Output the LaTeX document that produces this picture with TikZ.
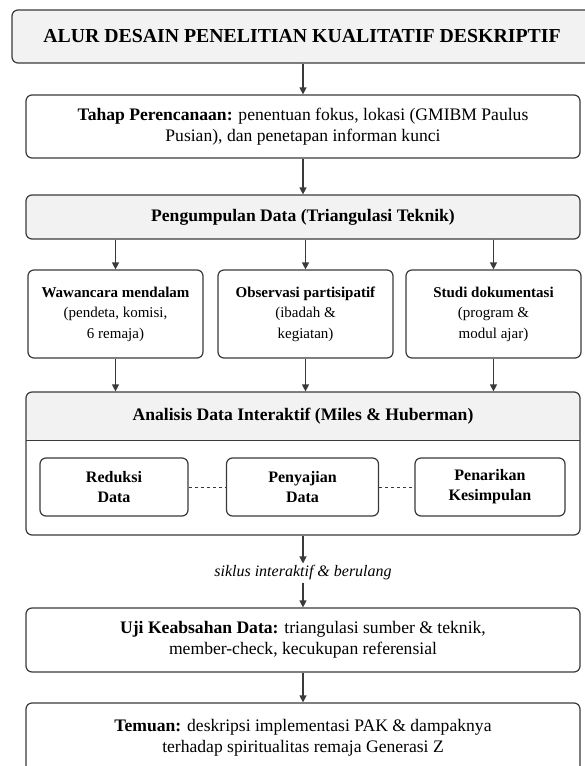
\documentclass[tikz,border=0pt]{standalone}
\usepackage{fontspec}
\setmainfont{Liberation Serif}
\definecolor{AbuMuda}{HTML}{F2F2F2}
\definecolor{GarisGelap}{HTML}{3A3A3A}
\usetikzlibrary{arrows.meta}
\usetikzlibrary{positioning}

\begin{document}
\begin{tikzpicture}
	[x=1pt, y=-1pt,
	every node/.style = {align=center, text=black},
	kotak/.style = {shape=rectangle, rounded corners=6pt, draw=GarisGelap, line width=1.2pt,
		fill=white, inner sep=0pt, font=\fontsize{17.6}{21}\selectfont},
	kotakabu/.style = {kotak, fill=AbuMuda},
	kecil/.style = {kotak, minimum width=175pt, minimum height=88pt, font=\fontsize{15}{20.5}\selectfont},
	dalam/.style = {kotak, minimum height=58pt, font=\fontsize{16}{20}\selectfont\bfseries},
	panah/.style = {draw=GarisGelap, line width=1.2pt, -{Triangle[length=7pt, width=7pt]}},
	putus/.style = {draw=GarisGelap, line width=1pt, dashed}]
	\useasboundingbox (0,0) rectangle (585,766);
	% alur utama
	\node[kotakabu, minimum width=580pt, minimum height=53pt, font=\fontsize{19.8}{22}\selectfont\bfseries]
		(judul) at (302,36.5) {ALUR DESAIN PENELITIAN KUALITATIF DESKRIPTIF};
	\node[kotak, minimum width=554pt, minimum height=63pt] (tahap) at (303,126.5)
		{\textbf{Tahap Perencanaan:} penentuan fokus, lokasi (GMIBM Paulus\\ Pusian), dan penetapan informan kunci};
	\node[kotakabu, minimum width=554pt, minimum height=44pt] (kumpul) at (303,217)
		{\textbf{Pengumpulan Data (Triangulasi Teknik)}};
	% tiga teknik
	\node[kecil] (wawancara) at (115.5,314) {\textbf{Wawancara mendalam}\\(pendeta, komisi,\\6 remaja)};
	\node[kecil] (observasi) at (305.5,314) {\textbf{Observasi partisipatif}\\(ibadah \&\\kegiatan)};
	\node[kecil] (studi) at (493.5,314) {\textbf{Studi dokumentasi}\\(program \&\\modul ajar)};
	% analisis
	\node[kotak, minimum width=554pt, minimum height=143pt,
		path picture={\fill[AbuMuda] (path picture bounding box.north west) rectangle
			([yshift=-49pt]path picture bounding box.north east);}] (analisis) at (303,463.5) {};
	\node[anchor=north, minimum width=554pt, minimum height=49pt, inner sep=0pt,
		font=\fontsize{17.6}{21}\selectfont\bfseries] (kepala) at (analisis.north)
		{Analisis Data Interaktif (Miles \& Huberman)};
	\draw[GarisGelap, line width=1.2pt] (kepala.south west) -- (kepala.south east);
	\node[dalam, minimum width=148pt] (reduksi) at (114,487) {Reduksi\\Data};
	\node[dalam, minimum width=152pt] (penyajian) at (302.5,487) {Penyajian\\Data};
	\node[dalam, minimum width=150pt] (penarikan) at (490,487) {Penarikan\\Kesimpulan};
	\draw[putus] (reduksi) -- (penyajian);
	\draw[putus] (penyajian) -- (penarikan);
	\node[font=\fontsize{16}{18}\selectfont\itshape, inner sep=2pt] (siklus) at (303,573)
		{siklus interaktif \& berulang};
	\node[kotak, minimum width=554pt, minimum height=64pt] (uji) at (303,640)
		{\textbf{Uji Keabsahan Data:} triangulasi sumber \& teknik,\\member-check, kecukupan referensial};
	\node[kotak, minimum width=554pt, minimum height=70pt] (temuan) at (303,738)
		{\textbf{Temuan:} deskripsi implementasi PAK \& dampaknya\\terhadap spiritualitas remaja Generasi Z};
	% panah
	\draw[panah] (judul.south -| tahap) -- (tahap.north);
	\draw[panah] (tahap) -- (kumpul);
	\foreach \t in {wawancara, observasi, studi}{
		\draw[panah] (kumpul.south -| \t) -- (\t.north);
		\draw[panah] (\t) -- (\t.south |- analisis.north);
	}
	\draw[panah] (analisis) -- (siklus);
	\draw[panah] (siklus) -- (uji);
	\draw[panah] (uji) -- (temuan);
\end{tikzpicture}
\end{document}
